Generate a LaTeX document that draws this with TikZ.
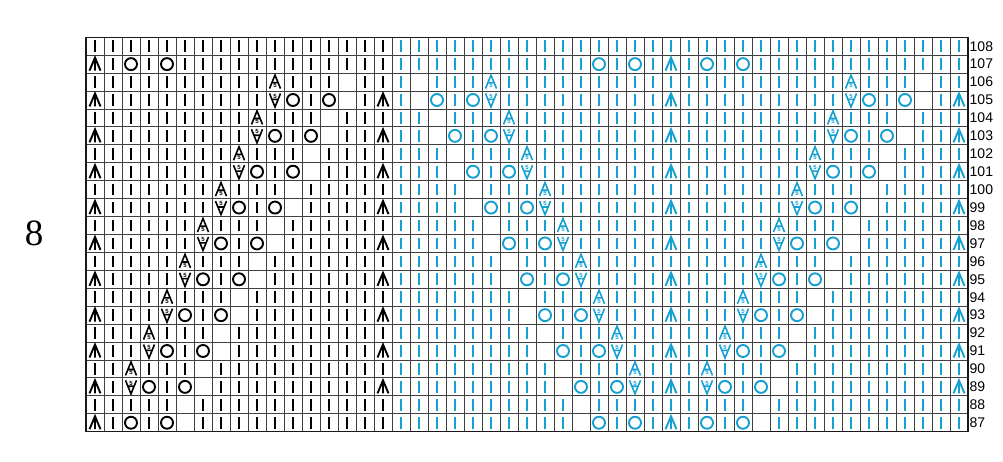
\documentclass[tikz,border=0pt]{standalone}
\usepackage{fontspec}
\setmainfont{Liberation Sans}
\newfontfamily\chartnofont{Liberation Serif}
\definecolor{chartblue}{RGB}{20,160,210}

\begin{document}
\begin{tikzpicture}[x=1pt,y=1pt,
    grid line/.style={draw=black!75,line width=0.9pt},
    frame line/.style={draw=black!90,line width=1.1pt},
    row label/.style={anchor=west,inner sep=0pt,font=\fontsize{14}{14}\selectfont},
    five/.style={inner sep=0pt,font=\fontsize{6}{6}\selectfont\bfseries},
    kbar/.pic={\draw[line width=2.7pt] (0,-5.8) -- (0,5.8);},
    kyo/.pic={\draw[line width=1.9pt] (0,0) circle (6);},
    kdec/.pic={\draw[line width=1.9pt] (-5.5,-6.5) -- (0,6.5) -- (5.5,-6.5) (0,6.5) -- (0,-6.5);},
    kdecfive/.pic={\draw[line width=1.6pt] (-5.5,-6.5) -- (0,7) -- (5.5,-6.5) (-3.1,-0.6) -- (3.1,-0.6);
                   \node[five] at (0,-3.9) {5};},
    kincfive/.pic={\draw[line width=1.6pt] (-5.5,6.5) -- (0,-7) -- (5.5,6.5) (-3.1,0.6) -- (3.1,0.6);
                   \node[five] at (0,3.9) {5};}]

  \def\chartx{86}
  \def\charty{30.3}
  \def\cellw{18}
  \def\cellh{17.93}

  \useasboundingbox (0,0) rectangle (1003,462);

  \node[font=\chartnofont\fontsize{37}{37}\selectfont] (chartno) at (34,229) {8};

  % grid
  \foreach \i in {0,...,22}
    \draw[grid line] ({\chartx},{\charty+\i*\cellh}) -- ({\chartx+49*\cellw},{\charty+\i*\cellh});
  \foreach \i in {0,...,49}
    \draw[grid line] ({\chartx+\i*\cellw},{\charty}) -- ({\chartx+\i*\cellw},{\charty+22*\cellh});

  % stitches
  \foreach \r in {87,...,108}{
    \foreach \c in {0,...,48}{
      \pgfmathtruncatemacro\s{floor((106-\r)/2)}
      \pgfmathtruncatemacro\odd{mod(\r,2)}
      \pgfmathtruncatemacro\inband{(\s>=0)&&(\s<=8)}
      \pgfmathtruncatemacro\isend{(\r==87)||(\r==107)}
      \pgfmathtruncatemacro\isgap{(\s>=0)&&((\c==14-(\s))||(\c==18+(\s))||(\c==46-(\s)))}
      \pgfmathtruncatemacro\istip{(\c==10-(\s))||(\c==22+(\s))||(\c==42-(\s))}
      \pgfmathtruncatemacro\isyo{(\c==11-(\s))||(\c==13-(\s))||(\c==21+(\s))||(\c==19+(\s))||(\c==43-(\s))||(\c==45-(\s))}
      \pgfmathtruncatemacro\isedge{(\c==0)||(\c==16)||(\c==32)||(\c==48)}
      \pgfmathtruncatemacro\endyo{(\c==2)||(\c==4)||(\c==28)||(\c==30)||(\c==34)||(\c==36)}
      \pgfmathtruncatemacro\enddec{(\c==0)||(\c==32)}
      \def\code{0}
      \ifnum\inband=1
        \ifnum\odd=1
          \ifnum\isedge=1 \def\code{3}\fi
          \ifnum\isyo=1 \def\code{2}\fi
          \ifnum\istip=1 \def\code{4}\fi
        \else
          \ifnum\istip=1 \def\code{5}\fi
        \fi
      \fi
      \ifnum\isend=1
        \ifnum\endyo=1 \def\code{2}\fi
        \ifnum\enddec=1 \def\code{3}\fi
      \fi
      \ifnum\isgap=1 \def\code{1}\fi
      \ifnum\c<17 \def\ink{black}\else \def\ink{chartblue}\fi
      \pgfmathsetmacro\px{\chartx+(\c+0.5)*\cellw}
      \pgfmathsetmacro\py{\charty+(\r-86.5)*\cellh}
      \ifcase\code
        \pic[color=\ink] at (\px,\py) {kbar};
      \or
      \or
        \pic[color=\ink] at (\px,\py) {kyo};
      \or
        \pic[color=\ink] at (\px,\py) {kdec};
      \or
        \pic[color=\ink] at (\px,\py) {kincfive};
      \or
        \pic[color=\ink] at (\px,\py) {kdecfive};
      \fi
    }
  }

  \draw[frame line] ({\chartx},{\charty}) rectangle ({\chartx+49*\cellw},{\charty+22*\cellh});

  \foreach \r in {87,...,108}
    \node[row label] (row\r) at ({\chartx+49*\cellw+1.5},{\charty+(\r-86.5)*\cellh}) {\r};
\end{tikzpicture}
\end{document}
